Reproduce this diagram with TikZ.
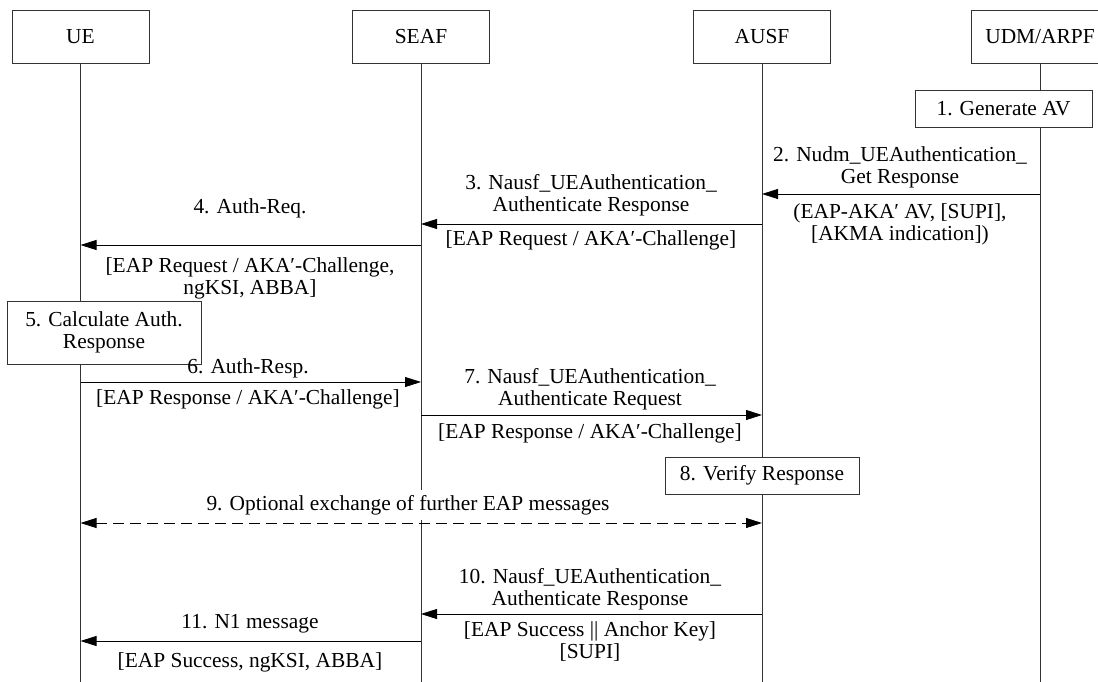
\documentclass[tikz,border=0pt]{standalone}
\usepackage{fontspec}
\setmainfont{Liberation Serif}
\usetikzlibrary{arrows.meta}
\begin{document}
\begin{tikzpicture}[x=1pt,y=-1pt,
  every node/.style={font=\fontsize{21.4}{22}\selectfont, inner sep=0pt},
  actor/.style={draw=black!80, line width=0.8pt, fill=white, minimum width=137pt, minimum height=53pt},
  procbox/.style={draw=black!80, line width=0.8pt, fill=white},
  life/.style={draw=black!80, line width=0.8pt},
  msg/.style={draw=black, line width=0.8pt, -{Triangle[length=16pt,width=10pt]}},
  dmsg/.style={draw=black, line width=0.8pt, dash pattern=on 11pt off 6pt, {Triangle[length=16pt,width=10pt]}-{Triangle[length=16pt,width=10pt]}},
  lbl/.style={align=center}
]
\useasboundingbox (0,0) rectangle (1098,682);

% actors
\node[actor] (ue)   at (80.5,36.5)  {UE};
\node[actor] (seaf) at (421,36.5)   {SEAF};
\node[actor] (ausf) at (762,36.5)   {AUSF};
\node[actor] (udm)  at (1040,36.5)  {UDM/ARPF};

% lifeline ends
\coordinate (ueend)   at (ue.south |- 0,682);
\coordinate (seafend) at (seaf.south |- 0,682);
\coordinate (ausfend) at (ausf.south |- 0,682);
\coordinate (udmend)  at (udm.south |- 0,682);
\draw[life] (ue.south) -- (ueend);
\draw[life] (seaf.south) -- (seafend);
\draw[life] (ausf.south) -- (ausfend);
\draw[life] (udm.south) -- (udmend);

% 1
\node[procbox, minimum width=177pt, minimum height=37pt] (gen) at (1003.5,108.5) {1. Generate AV};

% 2
\coordinate (m2a) at (udm.south |- 0,194);
\coordinate (m2b) at (ausf.south |- 0,194);
\draw[msg] (m2a) -- (m2b);
\node[lbl] (l2a) at (900,167) {2. Nudm\_UEAuthentication\_\\Get Response};
\node[lbl] (l2b) at (900,224) {(EAP-AKA′ AV, [SUPI],\\{}[AKMA indication])};

% 3
\coordinate (m3a) at (ausf.south |- 0,224);
\coordinate (m3b) at (seaf.south |- 0,224);
\draw[msg] (m3a) -- (m3b);
\node[lbl] (l3a) at (591,195) {3. Nausf\_UEAuthentication\_\\Authenticate Response};
\node[lbl] (l3b) at (591,240) {[EAP Request / AKA′-Challenge]};

% 4
\coordinate (m4a) at (seaf.south |- 0,245);
\coordinate (m4b) at (ue.south |- 0,245);
\draw[msg] (m4a) -- (m4b);
\node[lbl] (l4a) at (250,208) {4. Auth-Req.};
\node[lbl] (l4b) at (250,278) {[EAP Request / AKA′-Challenge,\\ngKSI, ABBA]};

% 5
\node[procbox, minimum width=194pt, minimum height=63pt, align=center] (calc) at (104,332.5) {5. Calculate Auth.\\Response};

% 6
\coordinate (m6a) at (ue.south |- 0,382);
\coordinate (m6b) at (seaf.south |- 0,382);
\draw[msg] (m6a) -- (m6b);
\node[lbl] (l6a) at (248,368) {6. Auth-Resp.};
\node[lbl] (l6b) at (248,399) {[EAP Response / AKA′-Challenge]};

% 7
\coordinate (m7a) at (seaf.south |- 0,415);
\coordinate (m7b) at (ausf.south |- 0,415);
\draw[msg] (m7a) -- (m7b);
\node[lbl] (l7a) at (590,389) {7. Nausf\_UEAuthentication\_\\Authenticate Request};
\node[lbl] (l7b) at (590,433) {[EAP Response / AKA′-Challenge]};

% 8
\node[procbox, minimum width=194pt, minimum height=37pt] (ver) at (762,475.5) {8. Verify Response};

% 9
\coordinate (m9a) at (ue.south |- 0,523);
\coordinate (m9b) at (ausf.south |- 0,523);
\draw[dmsg] (m9a) -- (m9b);
\node[lbl, fill=white, inner xsep=2pt, inner ysep=5pt] (l9) at (408,505) {9. Optional exchange of further EAP messages};

% 10
\coordinate (m10a) at (ausf.south |- 0,614);
\coordinate (m10b) at (seaf.south |- 0,614);
\draw[msg] (m10a) -- (m10b);
\node[lbl] (l10a) at (590,589) {10. Nausf\_UEAuthentication\_\\Authenticate Response};
\node[lbl] (l10b) at (590,642) {[EAP Success || Anchor Key]\\{}[SUPI]};

% 11
\coordinate (m11a) at (seaf.south |- 0,641);
\coordinate (m11b) at (ue.south |- 0,641);
\draw[msg] (m11a) -- (m11b);
\node[lbl] (l11a) at (250,624) {11. N1 message};
\node[lbl] (l11b) at (250,662) {[EAP Success, ngKSI, ABBA]};
\end{tikzpicture}
\end{document}
